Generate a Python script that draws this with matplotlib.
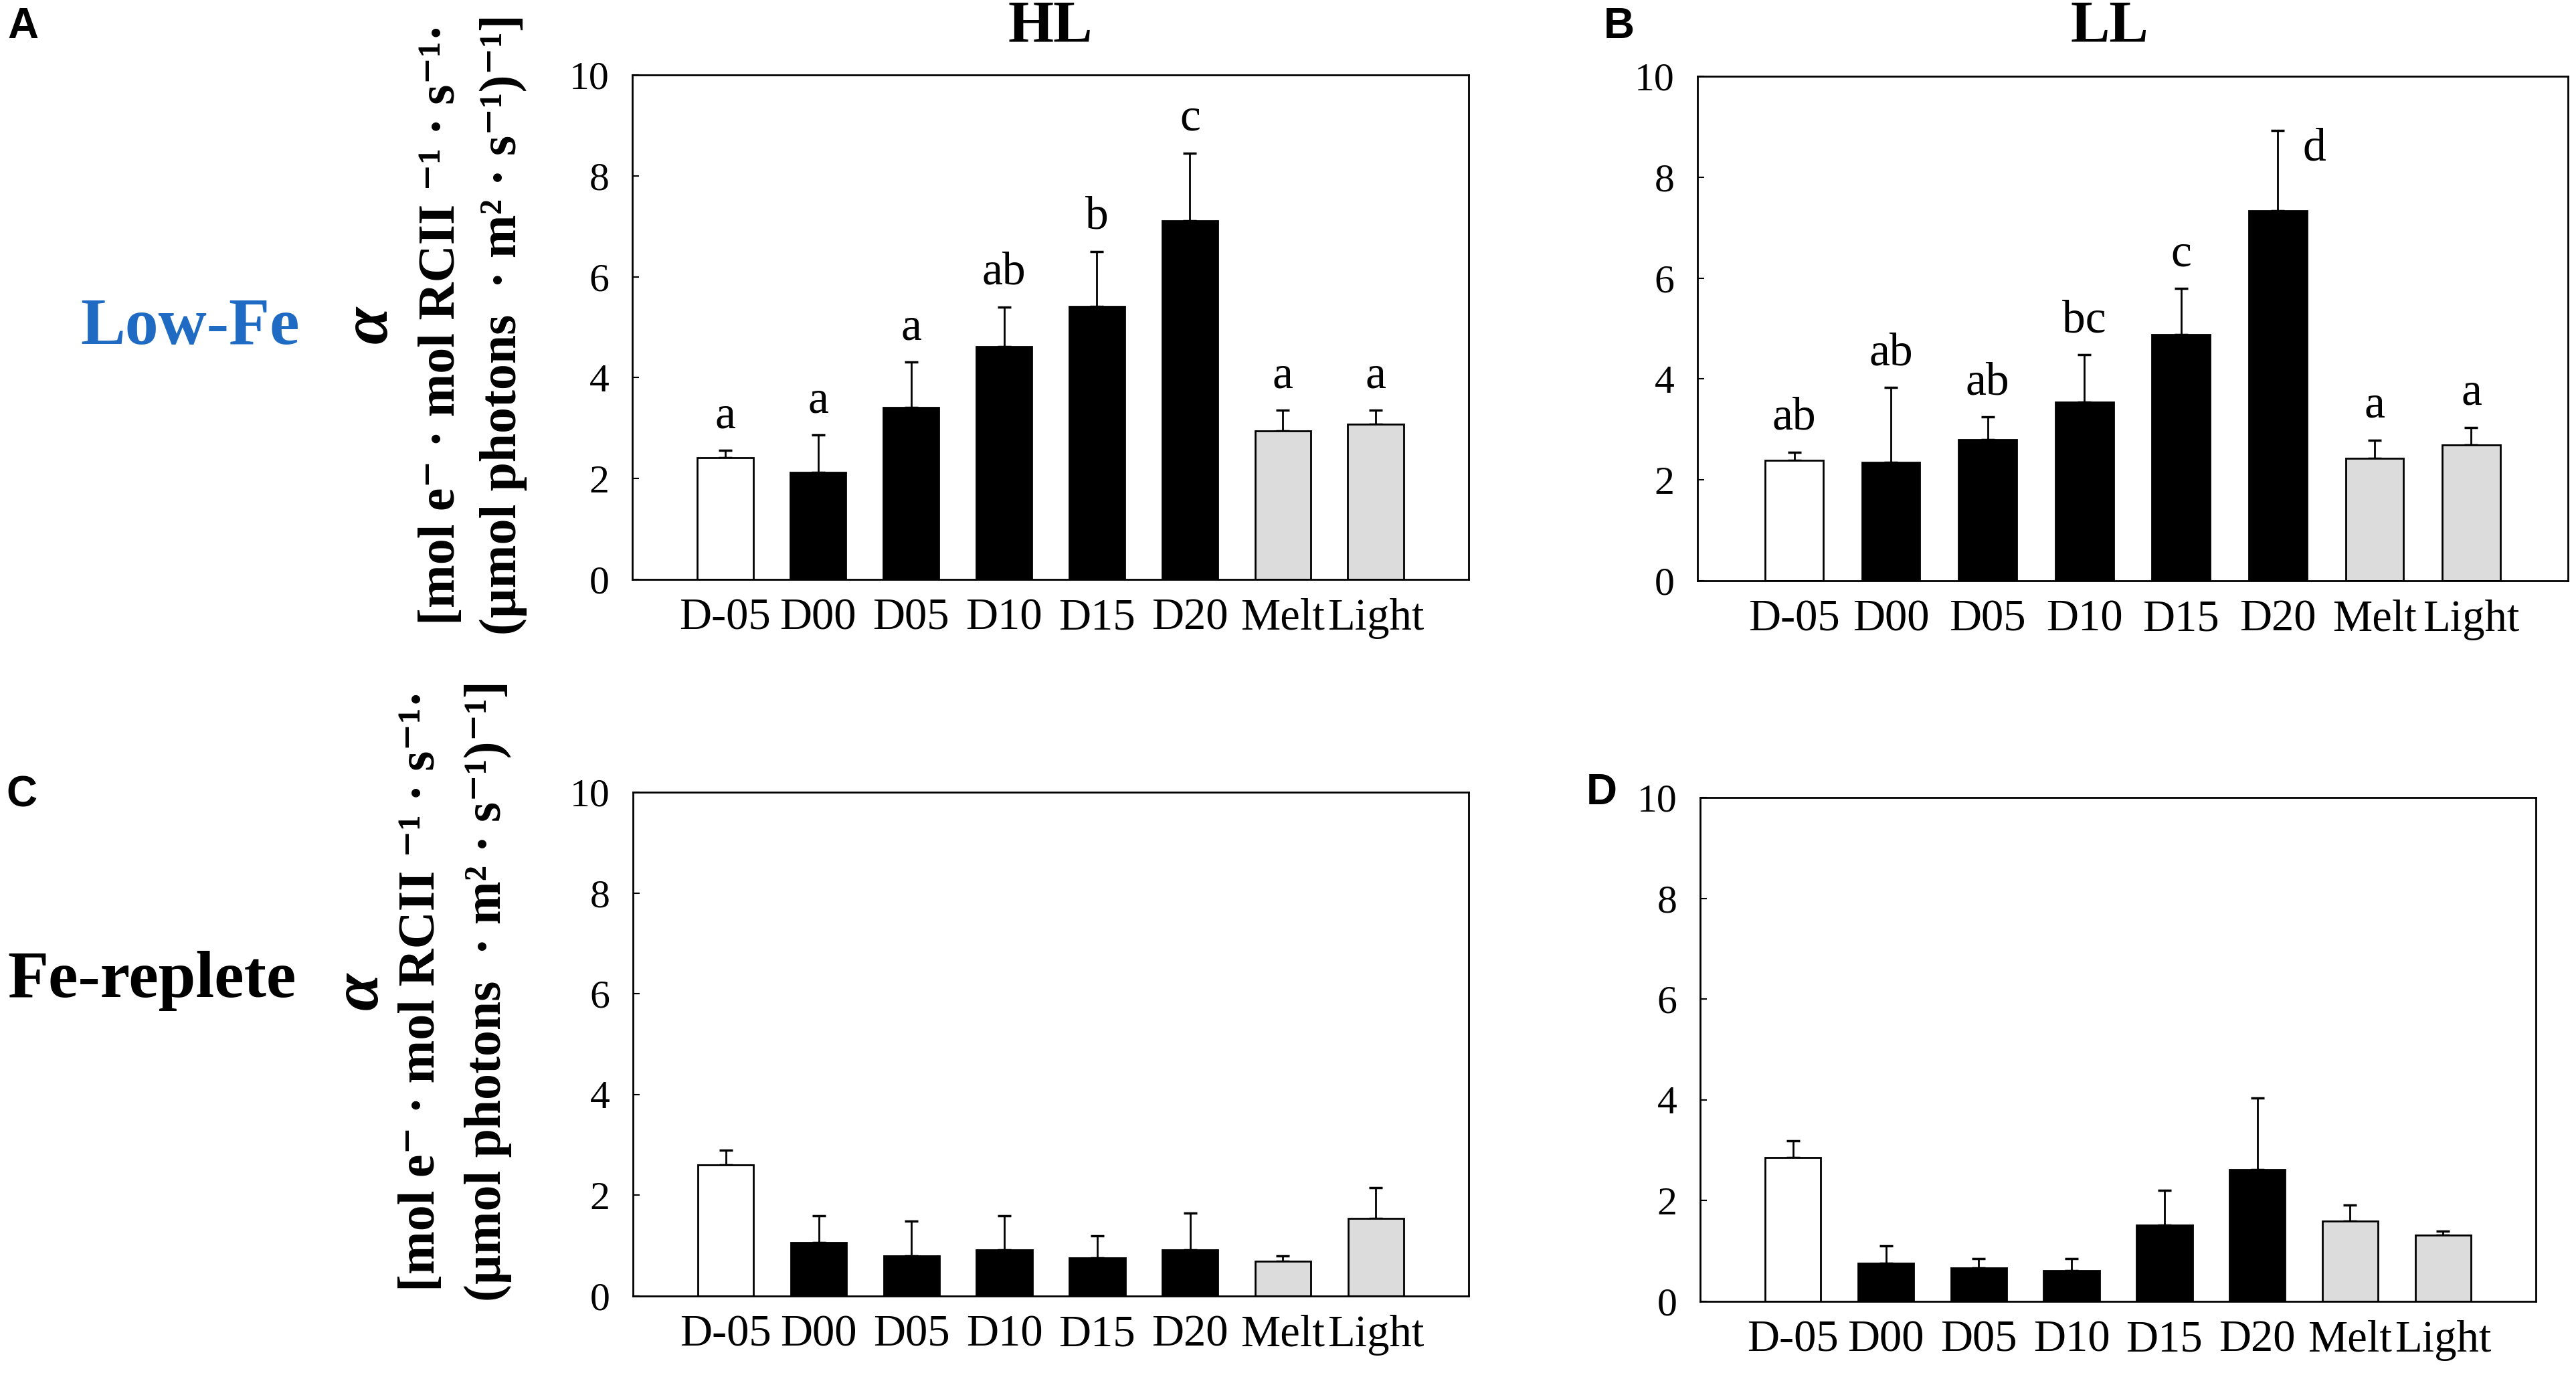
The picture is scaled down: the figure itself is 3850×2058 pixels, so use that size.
import numpy as np
import matplotlib
matplotlib.use('Agg')
import matplotlib.pyplot as plt

plt.rcParams['font.family'] = ['Liberation Serif', 'DejaVu Serif']

# categories / tick labels
days = ['D-05', 'D00', 'D05', 'D10', 'D15', 'D20', 'Melt', 'Light']
bar_colors = ['white', 'black', 'black', 'black', 'black', 'black', '#dcdcdc', '#dcdcdc']

# A: HL, Low-Fe
hl_lowfe = [2.41, 2.12, 3.41, 4.62, 5.41, 7.11, 2.94, 3.08]
hl_lowfe_err = [0.15, 0.74, 0.90, 0.78, 1.09, 1.34, 0.41, 0.27]
hl_lowfe_sig = ['a', 'a', 'a', 'ab', 'b', 'c', 'a', 'a']

# B: LL, Low-Fe
ll_lowfe = [2.39, 2.35, 2.80, 3.54, 4.88, 7.34, 2.43, 2.69]
ll_lowfe_err = [0.16, 1.48, 0.45, 0.94, 0.91, 1.58, 0.36, 0.35]
ll_lowfe_sig = ['ab', 'ab', 'ab', 'bc', 'c', 'd', 'a', 'a']

# C: HL, Fe-replete
hl_ferep = [2.60, 1.06, 0.80, 0.91, 0.76, 0.91, 0.69, 1.54]
hl_ferep_err = [0.30, 0.54, 0.69, 0.69, 0.44, 0.74, 0.11, 0.61]

# D: LL, Fe-replete
ll_ferep = [2.85, 0.76, 0.66, 0.61, 1.51, 2.61, 1.60, 1.31]
ll_ferep_err = [0.34, 0.34, 0.19, 0.24, 0.69, 1.43, 0.31, 0.09]

fig = plt.figure(figsize=(38.5, 20.58), dpi=100)


def draw_panel(rect, means, errs, sig=None, d_offset=False):
    ax = fig.add_axes(rect)
    x = np.arange(len(days))
    ax.bar(x, means, width=0.6, color=bar_colors, edgecolor='black', linewidth=2, zorder=2)
    ax.errorbar(x, means, yerr=[np.zeros(len(errs)), errs], fmt='none', ecolor='black',
                elinewidth=2, capsize=7, capthick=2.5, zorder=1)
    if sig is not None:
        for i, s in enumerate(sig):
            xi, yi = x[i], means[i] + errs[i] + 0.45
            if d_offset and s == 'd':
                xi, yi = x[i] + 0.38, 8.33
            ax.text(xi, yi, s, ha='center', va='baseline', fontsize=50)
    ax.set_xlim(-1, 8)
    ax.set_ylim(0, 10)
    ax.set_yticks([0, 2, 4, 6, 8, 10])
    ax.set_xticks(x)
    ax.set_xticklabels(days)
    ax.tick_params(axis='y', direction='in', length=7, width=1.5, labelsize=43, pad=25)
    ax.tick_params(axis='x', length=0, labelsize=48, pad=20)
    for sp in ax.spines.values():
        sp.set_linewidth(2)
    return ax


W, H = 3850, 2058
def rect(x0, x1, y0, y1):
    return [x0 / W, 1 - y1 / H, (x1 - x0) / W, (y1 - y0) / H]


draw_panel(rect(945, 2195, 112, 866), hl_lowfe, hl_lowfe_err, hl_lowfe_sig)
draw_panel(rect(2537, 3838, 114, 868), ll_lowfe, ll_lowfe_err, ll_lowfe_sig, d_offset=True)
draw_panel(rect(946, 2195, 1184, 1937), hl_ferep, hl_ferep_err)
draw_panel(rect(2541, 3790, 1192, 1945), ll_ferep, ll_ferep_err)


def ftext(px, py, s, **kw):
    fig.text(px / W, 1 - py / H, s, **kw)


# column titles
ftext(1570, 40, 'HL', ha='center', va='center', fontsize=63, fontweight='bold')
ftext(3153, 40, 'LL', ha='center', va='center', fontsize=63, fontweight='bold')

# panel letters
for lab, px, py in [('A', 34, 40), ('B', 2420, 40), ('C', 32, 1189), ('D', 2394, 1185)]:
    ftext(px, py, lab, ha='center', va='center', fontsize=46, fontweight='bold',
          family=['Liberation Sans', 'DejaVu Sans'])

# row labels
ftext(284, 490, 'Low-Fe', ha='center', va='center', fontsize=72, fontweight='bold', color='#1f6bc4')
ftext(227, 1466, 'Fe-replete', ha='center', va='center', fontsize=72, fontweight='bold')

# y-axis labels
line1 = '[mol e\u207b \u00b7 mol RCII \u207b\u00b9 \u00b7 s\u207b\u00b9\u00b7'
line2 = '(\u00b5mol photons  \u00b7 m\u00b2 \u00b7 s\u207b\u00b9)\u207b\u00b9]'
for (ax_a, x1, x2, yc) in [(554, 660, 752, 485), (540, 631, 729, 1481)]:
    ftext(ax_a, yc, '\u03b1', ha='center', va='center', rotation=90, fontsize=72,
          fontweight='bold', style='italic')
    ftext(x1, yc, line1, ha='center', va='center', rotation=90, fontsize=56, fontweight='bold')
    ftext(x2, yc, line2, ha='center', va='center', rotation=90, fontsize=56, fontweight='bold')

fig.savefig('out.png', dpi=100)
